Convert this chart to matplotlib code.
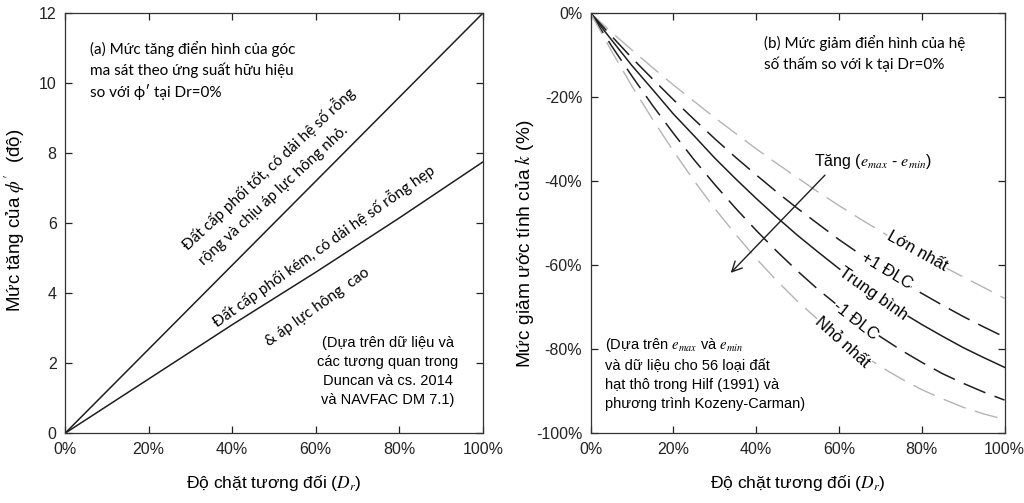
import matplotlib
matplotlib.use("Agg")
import matplotlib.pyplot as plt

plt.rcParams['font.family'] = ['Liberation Sans', 'DejaVu Sans']
plt.rcParams['mathtext.fontset'] = 'stix'
plt.rcParams['lines.scale_dashes'] = False

# --- (a) tăng góc ma sát ---
dr_a = [0, 20, 40, 60, 80, 100]
phi_tot = [0, 2.4, 4.8, 7.2, 9.6, 12.0]
phi_kem = [0, 1.55, 3.1, 4.6, 6.15, 7.75]

# --- (b) giảm hệ số thấm (đọc theo bước 5%) ---
dr_b = [0, 5, 10, 15, 20, 25, 30, 35, 40, 45, 50,
        55, 60, 65, 70, 75, 80, 85, 90, 95, 100]
k_lon = [0, -4.5, -8.8, -13.0, -17.1, -21.0, -24.9, -28.6, -32.3, -35.8, -39.2,
         -42.6, -45.8, -48.9, -51.9, -54.8, -57.5, -60.2, -62.8, -65.3, -67.9]
k_p1 = [0, -5.4, -10.7, -15.7, -20.6, -25.3, -29.9, -34.3, -38.5, -42.6, -46.5,
        -50.2, -53.9, -57.3, -60.6, -63.7, -66.7, -69.5, -72.2, -74.7, -77.1]
k_tb = [0, -6.3, -12.5, -18.2, -24.0, -29.2, -34.5, -39.4, -44.1, -48.6, -52.9,
        -56.9, -60.8, -64.4, -67.9, -71.1, -74.1, -76.9, -79.6, -82.0, -84.3]
k_m1 = [0, -7.7, -15.0, -22.0, -28.6, -34.9, -40.8, -46.4, -51.7, -56.7, -61.4,
        -65.8, -69.8, -73.6, -77.0, -80.2, -83.1, -85.8, -88.1, -90.2, -92.1]
k_nho = [0, -8.9, -17.4, -25.3, -32.8, -39.9, -46.5, -52.6, -58.4, -63.7, -68.6,
         -73.0, -77.1, -80.8, -84.1, -87.0, -89.6, -91.8, -93.8, -95.4, -96.7]

x_ticks = [0, 20, 40, 60, 80, 100]
x_labels = ["0%", "20%", "40%", "60%", "80%", "100%"]

calib = ['Lato', 'DejaVu Sans']
dark = '#1e1e1e'
gray = '#b4b4b4'

fig = plt.figure(figsize=(10.24, 5.03), dpi=100)
bot = (503 - 433.3) / 503
hgt = 420.3 / 503
ax1 = fig.add_axes([65 / 1024, bot, 418 / 1024, hgt])
ax2 = fig.add_axes([590.5 / 1024, bot, 414 / 1024, hgt])

for ax in (ax1, ax2):
    ax.tick_params(direction='in', top=True, right=True, length=5, width=0.9,
                   labelsize=11.5, pad=6, colors='#222222')
    for s in ax.spines.values():
        s.set_linewidth(0.9)
        s.set_color('#333333')
    ax.set_xlim(0, 100)
    ax.set_xticks(x_ticks)
    ax.set_xticklabels(x_labels)
    ax.set_xlabel(r"Độ chặt tương đối ($D_r$)", fontsize=12.5, labelpad=12)

# panel a
ax1.plot(dr_a, phi_tot, color=dark, lw=1.1)
ax1.plot(dr_a, phi_kem, color=dark, lw=1.1)
ax1.set_ylim(0, 12)
ax1.set_yticks(range(0, 13, 2))
ax1.set_ylabel(r"Mức tăng của $\phi^{\prime}$  (độ)", fontsize=13.5)
ax1.yaxis.set_label_coords(-0.092, 0.507)

ax1.text(6, 11.2, "(a) Mức tăng điển hình của góc\nma sát theo ứng suất hữu hiệu\nso với ϕ′ tại Dr=0%",
         family=calib, fontsize=11, ha='left', va='top', linespacing=1.45)
ax1.text(77.3, 1.77, "(Dựa trên dữ liệu và\ncác tương quan trong\nDuncan và cs. 2014\nvà NAVFAC DM 7.1)",
         fontsize=10.5, ha='center', va='center', linespacing=1.45)
ax1.text(48.7, 7.57, "Đất cấp phối tốt, có dải hệ số rỗng", family=calib, fontsize=11,
         rotation=42.9, rotation_mode='anchor', ha='center', va='center')
ax1.text(49.8, 6.78, "rộng và chịu áp lực hông nhỏ.", family=calib, fontsize=11,
         rotation=42.9, rotation_mode='anchor', ha='center', va='center')
ax1.text(61.8, 5.36, "Đất cấp phối kém, có dải hệ số rỗng hẹp", family=calib, fontsize=11,
         rotation=35.3, rotation_mode='anchor', ha='center', va='center')
ax1.text(60.4, 3.6, "& áp lực hông  cao", family=calib, fontsize=11,
         rotation=35.5, rotation_mode='anchor', ha='center', va='center')

# panel b
ax2.plot(dr_b, k_lon, color=gray, lw=1.0, dashes=[17, 7])
ax2.plot(dr_b, k_p1, color=dark, lw=1.1, dashes=[17, 7])
ax2.plot(dr_b, k_tb, color=dark, lw=1.1)
ax2.plot(dr_b, k_m1, color=dark, lw=1.1, dashes=[17, 7])
ax2.plot(dr_b, k_nho, color=gray, lw=1.0, dashes=[17, 7])
ax2.set_ylim(-100, 0)
ax2.set_yticks(range(-100, 1, 20))
ax2.set_yticklabels([f"{v}%" for v in range(-100, 1, 20)])
ax2.set_ylabel(r"Mức giảm ước tính của $k$ (%)", fontsize=13.8)
ax2.yaxis.set_label_coords(-0.132, 0.45)

ax2.text(41.8, -5.2, "(b) Mức giảm điển hình của hệ\nsố thấm so với k tại Dr=0%",
         family=calib, fontsize=11, ha='left', va='top', linespacing=1.45)
ax2.text(54, -35.4, r"Tăng ($e_{max}$ - $e_{min}$)", fontsize=11.5, ha='left', va='center')
ax2.annotate('', xy=(33.4, -62.3), xytext=(57.1, -38.1),
             arrowprops=dict(arrowstyle='->', color=dark, lw=1.0, mutation_scale=18))
ax2.text(3.5, -85.7, "(Dựa trên $e_{max}$ và $e_{min}$\nvà dữ liệu cho 56 loại đất\nhạt thô trong Hilf (1991) và\nphương trình Kozeny-Carman)",
         fontsize=10.5, ha='left', va='center', linespacing=1.45)

# nhãn đặt trên đường cong, che nét bên dưới
curve_labels = [("Lớn nhất", 79.0, -56.6, -29),
                ("+1 ĐLC", 71.5, -61.3, -31),
                ("Trung bình", 68.3, -66.8, -35),
                ("-1 ĐLC", 64.1, -73.3, -38),
                ("Nhỏ nhất", 60.9, -78.3, -42)]
for txt, x, y, r in curve_labels:
    ax2.text(x, y, txt, fontsize=12, rotation=r, rotation_mode='anchor',
             ha='center', va='center', zorder=5,
             bbox=dict(facecolor='white', edgecolor='none', pad=0.5))

fig.savefig("out.png", dpi=100)
